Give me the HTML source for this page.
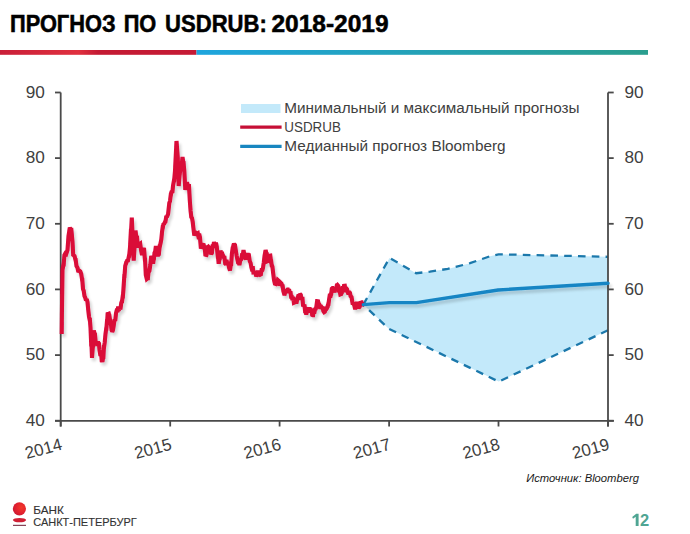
<!DOCTYPE html>
<html><head><meta charset="utf-8"><style>
html,body{margin:0;padding:0;background:#fff;}
body{width:690px;height:534px;overflow:hidden;position:relative;}
svg{position:absolute;left:0;top:0;}
text{font-family:"Liberation Sans",sans-serif;}
</style></head><body>
<svg width="690" height="534" viewBox="0 0 690 534">
<defs>
<linearGradient id="gr" x1="0" x2="196" gradientUnits="userSpaceOnUse">
<stop offset="0" stop-color="#c91f38"/><stop offset="0.4" stop-color="#e0303f"/><stop offset="0.5" stop-color="#c41a33"/><stop offset="1" stop-color="#c51a35"/>
</linearGradient>
<linearGradient id="gb" x1="196" x2="648" gradientUnits="userSpaceOnUse">
<stop offset="0" stop-color="#1ea5de"/><stop offset="1" stop-color="#2a9e8e"/>
</linearGradient>
<radialGradient id="lg" cx="0.65" cy="0.4" r="0.7">
<stop offset="0" stop-color="#f23a2a"/><stop offset="0.6" stop-color="#e3202e"/><stop offset="1" stop-color="#c81a35"/>
</radialGradient>
<filter id="sh" x="-10%" y="-10%" width="120%" height="120%">
<feGaussianBlur in="SourceAlpha" stdDeviation="1.5"/><feOffset dx="2" dy="3" result="b"/>
<feComponentTransfer><feFuncA type="linear" slope="0.18"/></feComponentTransfer>
<feMerge><feMergeNode/><feMergeNode in="SourceGraphic"/></feMerge>
</filter>
</defs>
<g font-size="21.8" font-weight="bold" fill="#000" stroke="#000" stroke-width="0.5">
<text transform="translate(10,31.6) scale(1.0,1.07)">ПРОГНОЗ</text>
<text transform="translate(123.7,31.6) scale(1.0,1.07)">ПО</text>
<text transform="translate(165.1,31.6) scale(1.012,1.07)">USDRUB:</text>
<text transform="translate(271.4,31.6) scale(1.125,1.07)">2018-2019</text>
</g>
<rect x="0" y="50" width="196.5" height="4.8" fill="url(#gr)"/>
<rect x="196.5" y="50" width="451.5" height="4.8" fill="url(#gb)"/>

<polygon points="363.3,304.6 389.5,258.0 416.2,273.2 430.0,271.6 447.8,268.9 470.0,263.2 490.0,256.2 498.5,254.3 608.0,256.8 608.0,330.3 498.7,381.6 388.5,328.6 363.3,304.6" fill="#c3e9fa"/>
<polyline points="363.3,304.6 389.5,258.0 416.2,273.2 430.0,271.6 447.8,268.9 470.0,263.2 490.0,256.2 498.5,254.3 608.0,256.8" fill="none" stroke="#1b78ab" stroke-width="2.3" stroke-dasharray="7.6,6.2"/>
<polyline points="608.0,330.3 498.7,381.6 388.5,328.6 363.3,304.6" fill="none" stroke="#1b78ab" stroke-width="2.3" stroke-dasharray="7.6,6.2"/>
<g stroke="#4a4a4a" stroke-width="1.8" fill="none">
<line x1="60.7" y1="92.5" x2="60.7" y2="426.5"/>
<line x1="608" y1="92.5" x2="608" y2="426.5"/>
<line x1="55" y1="420.9" x2="613.9" y2="420.9"/>
<line x1="55" y1="92.5" x2="60.7" y2="92.5"/><line x1="608" y1="92.5" x2="613.7" y2="92.5"/><line x1="55" y1="158.1" x2="60.7" y2="158.1"/><line x1="608" y1="158.1" x2="613.7" y2="158.1"/><line x1="55" y1="223.8" x2="60.7" y2="223.8"/><line x1="608" y1="223.8" x2="613.7" y2="223.8"/><line x1="55" y1="289.4" x2="60.7" y2="289.4"/><line x1="608" y1="289.4" x2="613.7" y2="289.4"/><line x1="55" y1="355.1" x2="60.7" y2="355.1"/><line x1="608" y1="355.1" x2="613.7" y2="355.1"/><line x1="55" y1="420.7" x2="60.7" y2="420.7"/><line x1="608" y1="420.7" x2="613.7" y2="420.7"/><line x1="60.7" y1="420.9" x2="60.7" y2="426.5"/><line x1="170.2" y1="420.9" x2="170.2" y2="426.5"/><line x1="279.6" y1="420.9" x2="279.6" y2="426.5"/><line x1="389.1" y1="420.9" x2="389.1" y2="426.5"/><line x1="498.5" y1="420.9" x2="498.5" y2="426.5"/><line x1="608.0" y1="420.9" x2="608.0" y2="426.5"/>
</g>
<g filter="url(#sh)">
<polyline points="61.7,334.0 61.9,315.0 62.5,270.0 63.5,264.4 63.7,264.4 64.4,255.0 65.3,253.4 66.2,254.0 67.5,250.0 68.5,236.0 69.8,227.5 70.5,229.3 71.2,228.0 72.5,242.0 73.2,255.0 74.5,256.0 75.5,260.0 75.7,260.0 76.5,266.0 77.5,267.8 78.4,272.0 79.3,270.7 79.5,270.7 80.3,271.5 81.2,273.7 82.1,279.8 82.3,279.8 83.0,289.0 83.7,290.8 84.5,296.1 85.2,297.5 86.0,300.6 86.7,298.9 87.5,302.0 88.2,309.5 89.0,316.6 89.7,319.9 89.9,319.9 90.5,327.5 91.2,344.4 91.5,344.4 92.0,357.8 92.9,345.5 93.1,345.5 93.8,330.4 94.8,334.7 95.0,334.7 95.7,342.4 96.5,343.7 97.2,343.2 98.0,341.7 98.8,344.3 99.0,344.3 99.5,350.0 100.2,354.2 100.4,354.2 101.0,354.0 101.2,354.0 101.7,360.3 101.9,360.3 102.4,362.0 103.2,357.0 103.4,357.0 103.9,347.0 104.1,347.0 104.7,342.4 105.5,333.9 106.2,328.7 106.4,328.7 107.0,321.0 107.2,321.0 107.7,312.5 108.5,313.4 108.7,313.4 109.2,315.7 109.4,315.7 110.0,320.0 110.7,322.6 111.5,329.1 111.7,329.1 112.2,332.0 113.0,329.9 113.7,325.7 114.5,320.0 115.2,319.3 115.4,319.3 116.0,313.4 116.7,310.4 117.5,310.5 117.7,310.5 118.2,306.5 118.9,309.1 119.1,309.1 119.7,306.8 120.4,309.5 121.2,303.2 121.9,301.1 122.1,301.1 122.7,296.5 122.9,296.5 123.4,290.0 124.3,276.0 124.5,276.0 125.2,266.0 126.1,262.9 126.3,262.9 127.1,260.8 128.0,260.6 129.0,255.7 129.2,255.7 130.0,247.5 130.9,230.9 131.1,230.9 131.8,217.5 132.8,241.0 133.7,260.6 134.6,246.7 135.5,230.6 136.2,236.3 136.4,236.3 136.9,237.9 137.1,237.9 137.6,244.8 138.3,247.5 139.2,244.4 140.2,243.7 141.1,250.5 142.0,255.0 143.0,249.7 143.2,249.7 144.0,248.0 144.9,259.8 145.1,259.8 145.8,275.0 146.8,279.0 147.7,278.2 147.9,278.2 148.5,272.1 149.4,271.0 150.3,265.1 151.2,256.0 152.1,258.0 153.1,263.7 153.8,258.1 154.0,258.1 154.5,252.8 155.2,251.6 155.9,245.9 156.9,252.4 157.8,256.0 158.7,253.6 158.9,253.6 159.7,246.2 159.9,246.2 160.6,243.0 161.3,239.5 162.0,232.2 162.7,227.1 162.9,227.1 163.4,224.3 164.3,223.6 165.3,221.3 165.5,221.3 166.2,216.9 167.1,216.5 168.1,214.0 169.3,203.0 170.0,201.1 170.8,194.5 171.0,194.5 171.5,191.8 172.3,191.2 172.5,191.2 173.0,186.0 174.0,180.2 174.2,180.2 175.0,171.0 175.8,155.0 176.5,141.0 177.8,158.0 178.7,186.0 179.6,175.2 180.6,167.5 181.6,164.2 181.8,164.2 182.5,157.0 183.4,163.0 183.6,163.0 184.3,171.0 185.3,190.0 186.2,184.4 186.4,184.4 187.0,182.4 188.0,186.0 188.2,186.0 189.0,186.0 189.8,200.4 190.6,211.0 191.3,217.1 192.0,218.0 192.7,221.9 193.4,228.0 194.3,235.6 195.2,233.2 195.4,233.2 196.2,232.9 197.1,233.7 197.8,233.3 198.6,237.4 198.8,237.4 199.3,235.3 199.5,235.3 200.0,237.5 200.9,248.7 201.8,246.0 202.8,244.8 203.7,245.0 204.6,248.8 204.8,248.8 205.5,256.0 206.2,255.2 206.4,255.2 206.9,253.3 207.7,247.3 207.9,247.3 208.4,246.8 209.3,247.9 209.5,247.9 210.3,250.4 210.5,250.4 211.2,254.3 211.9,253.0 212.6,246.2 213.3,246.2 214.0,242.0 214.7,244.4 215.4,246.3 215.6,246.3 216.1,244.4 216.3,244.4 216.8,246.8 217.8,256.6 218.0,256.6 218.7,263.7 219.6,258.2 219.8,258.2 220.5,250.6 221.2,253.5 221.4,253.5 221.9,251.9 222.6,256.2 222.8,256.2 223.3,256.0 224.2,257.9 224.5,257.9 225.2,263.7 225.9,264.5 226.6,261.5 226.8,261.5 227.3,264.1 228.0,261.8 229.0,267.6 230.0,270.6 230.9,263.9 231.2,263.9 231.9,253.7 232.6,248.5 232.8,248.5 233.4,245.6 233.6,245.6 234.1,243.4 234.9,245.7 235.1,245.7 235.8,250.5 236.6,255.6 237.3,259.0 238.0,262.2 238.2,262.2 238.7,261.6 239.4,265.0 240.3,260.2 240.5,260.2 241.2,259.3 242.0,255.0 242.2,255.0 242.7,254.6 242.9,254.6 243.5,250.0 244.3,254.6 244.5,254.6 245.1,258.0 245.9,259.3 246.9,255.5 247.8,253.7 248.7,255.3 248.9,255.3 249.7,261.0 250.6,263.0 251.3,267.0 252.0,269.7 252.2,269.7 252.7,268.1 252.9,268.1 253.4,272.4 254.3,272.3 254.5,272.3 255.3,273.1 255.5,273.1 256.2,276.2 257.1,274.8 257.4,274.8 258.1,270.6 259.0,273.7 260.0,274.7 260.9,274.3 261.6,270.0 261.8,270.0 262.3,269.7 262.5,269.7 263.0,267.8 263.7,263.0 264.6,255.5 265.6,250.0 266.6,254.2 266.8,254.2 267.5,261.2 268.2,260.9 268.4,260.9 268.9,257.2 269.6,255.7 269.8,255.7 270.3,255.6 271.0,261.4 271.2,261.4 271.7,265.3 271.9,265.3 272.4,266.5 273.1,272.4 274.0,279.8 274.9,283.7 275.6,283.9 276.4,280.8 277.1,282.7 277.8,280.0 278.7,280.8 279.6,285.5 280.6,282.8 281.5,283.7 282.4,286.4 282.7,286.4 283.4,291.2 284.1,293.6 284.3,293.6 284.8,293.7 285.5,291.1 285.7,291.1 286.2,293.0 286.9,290.3 287.6,289.5 287.8,289.5 288.3,291.5 288.5,291.5 289.0,289.3 289.7,292.4 290.4,291.3 291.1,296.8 291.3,296.8 291.8,296.8 292.5,300.0 293.2,298.5 293.4,298.5 293.9,302.7 294.6,302.4 295.5,300.2 295.7,300.2 296.5,301.9 296.7,301.9 297.4,298.7 298.2,296.1 298.5,296.1 299.1,298.3 299.3,298.3 299.9,293.9 300.8,294.9 301.5,299.5 302.2,298.9 302.5,298.9 303.0,304.8 303.2,304.8 303.7,305.5 304.4,306.3 304.6,306.3 305.1,311.2 305.4,311.2 305.9,313.0 306.6,313.0 307.5,309.6 308.5,310.3 308.7,310.3 309.4,307.4 310.1,311.0 310.3,311.0 310.8,309.7 311.0,309.7 311.5,311.2 311.7,311.2 312.2,314.9 312.9,315.3 313.1,315.3 313.6,310.4 314.3,312.0 314.5,312.0 315.0,309.3 315.7,309.0 316.4,306.6 317.1,301.0 317.3,301.0 317.8,300.0 318.5,303.5 318.7,303.5 319.2,305.1 319.4,305.1 319.9,307.3 320.1,307.3 320.6,307.4 321.5,306.9 322.5,308.2 322.7,308.2 323.4,311.2 324.1,312.2 324.8,311.7 325.5,308.6 325.7,308.6 326.2,309.3 326.9,308.3 327.6,306.1 327.8,306.1 328.3,303.9 328.5,303.9 329.0,300.0 329.7,295.5 329.9,295.5 330.4,295.9 330.6,295.9 331.1,293.5 331.3,293.5 331.8,288.7 332.5,288.1 332.7,288.1 333.2,289.2 333.4,289.2 333.9,290.1 334.6,292.4 335.3,288.7 336.1,290.1 336.8,285.5 337.0,285.5 337.5,285.0 338.2,285.8 338.9,290.8 339.6,290.9 340.3,294.3 341.0,294.0 341.2,294.0 341.8,292.8 342.5,288.1 342.7,288.1 343.3,289.5 343.5,289.5 344.0,285.9 344.8,285.8 345.5,290.5 345.7,290.5 346.3,288.6 346.5,288.6 347.0,289.2 347.8,292.4 348.5,294.4 349.2,292.5 349.4,292.5 349.9,293.6 350.1,293.6 350.6,296.2 351.5,297.1 352.5,302.9 352.7,302.9 353.4,303.7 354.3,305.2 355.2,309.3 356.1,304.3 356.3,304.3 357.0,302.0 357.8,304.2 358.0,304.2 358.5,308.5 359.5,306.3 359.7,306.3 360.5,301.5 361.2,302.3 361.5,302.3 362.0,306.0 362.8,304.3 363.0,304.3 363.5,304.6" fill="none" stroke="#da0838" stroke-width="4.1" stroke-linejoin="miter" stroke-miterlimit="2" stroke-linecap="butt"/>
<polyline points="363.3,304.6 389.5,302.6 416.4,302.6 498.2,290.0 608.0,283.2" fill="none" stroke="#1685c4" stroke-width="3.4" stroke-linejoin="round" stroke-linecap="round"/>
</g>
<g font-size="17.2" fill="#404040"><text x="44.8" y="97.7" text-anchor="end">90</text><text x="624.5" y="97.7">90</text><text x="44.8" y="163.3" text-anchor="end">80</text><text x="624.5" y="163.3">80</text><text x="44.8" y="229.0" text-anchor="end">70</text><text x="624.5" y="229.0">70</text><text x="44.8" y="294.6" text-anchor="end">60</text><text x="624.5" y="294.6">60</text><text x="44.8" y="360.3" text-anchor="end">50</text><text x="624.5" y="360.3">50</text><text x="44.8" y="425.9" text-anchor="end">40</text><text x="624.5" y="425.9">40</text></g>
<g font-size="17" fill="#404040"><text transform="translate(63.2,449.3) rotate(-15)" text-anchor="end">2014</text><text transform="translate(172.7,449.3) rotate(-15)" text-anchor="end">2015</text><text transform="translate(282.1,449.3) rotate(-15)" text-anchor="end">2016</text><text transform="translate(391.6,449.3) rotate(-15)" text-anchor="end">2017</text><text transform="translate(501.0,449.3) rotate(-15)" text-anchor="end">2018</text><text transform="translate(610.5,449.3) rotate(-15)" text-anchor="end">2019</text></g>

<rect x="241" y="104" width="39.5" height="9" fill="#c3e9fa"/>
<line x1="240.2" y1="127.2" x2="281.6" y2="127.2" stroke="#c60f36" stroke-width="3.3"/>
<line x1="240.2" y1="146.3" x2="281.6" y2="146.3" stroke="#1886c0" stroke-width="3.3"/>
<g font-size="13.8" fill="#404040">
<text x="284.3" y="113" textLength="295.3" lengthAdjust="spacingAndGlyphs">Минимальный и максимальный прогнозы</text>
<text x="284.3" y="132" textLength="56.6" lengthAdjust="spacingAndGlyphs">USDRUB</text>
<text x="284.3" y="151" textLength="221.3" lengthAdjust="spacingAndGlyphs">Медианный прогноз Bloomberg</text>
</g>
<text x="526.2" y="482.2" font-size="11" font-style="italic" fill="#1a1a1a" textLength="112.8" lengthAdjust="spacingAndGlyphs">Источник: Bloomberg</text>

<circle cx="19.4" cy="508.8" r="6.6" fill="url(#lg)"/>
<ellipse cx="19.5" cy="520.1" rx="6.6" ry="2.2" fill="#d01f35"/>
<rect x="13" y="524.8" width="13" height="1.1" fill="#7a3045"/>
<g fill="#333" font-size="11.8" stroke="#333" stroke-width="0.15">
<text x="33.2" y="513.7" textLength="30.6" lengthAdjust="spacingAndGlyphs">БАНК</text>
<text x="33.2" y="525.9" textLength="103.6" lengthAdjust="spacingAndGlyphs">САНКТ-ПЕТЕРБУРГ</text>
</g>
<g fill="#4fa593"><polygon points="632.2,517.0 636.2,513.8 638.6,513.8 638.6,525.9 635.7,525.9 635.7,516.7 633.0,518.7"/>
<text x="640" y="525.8" font-size="16.5" font-weight="bold">2</text></g>
</svg>
</body></html>
